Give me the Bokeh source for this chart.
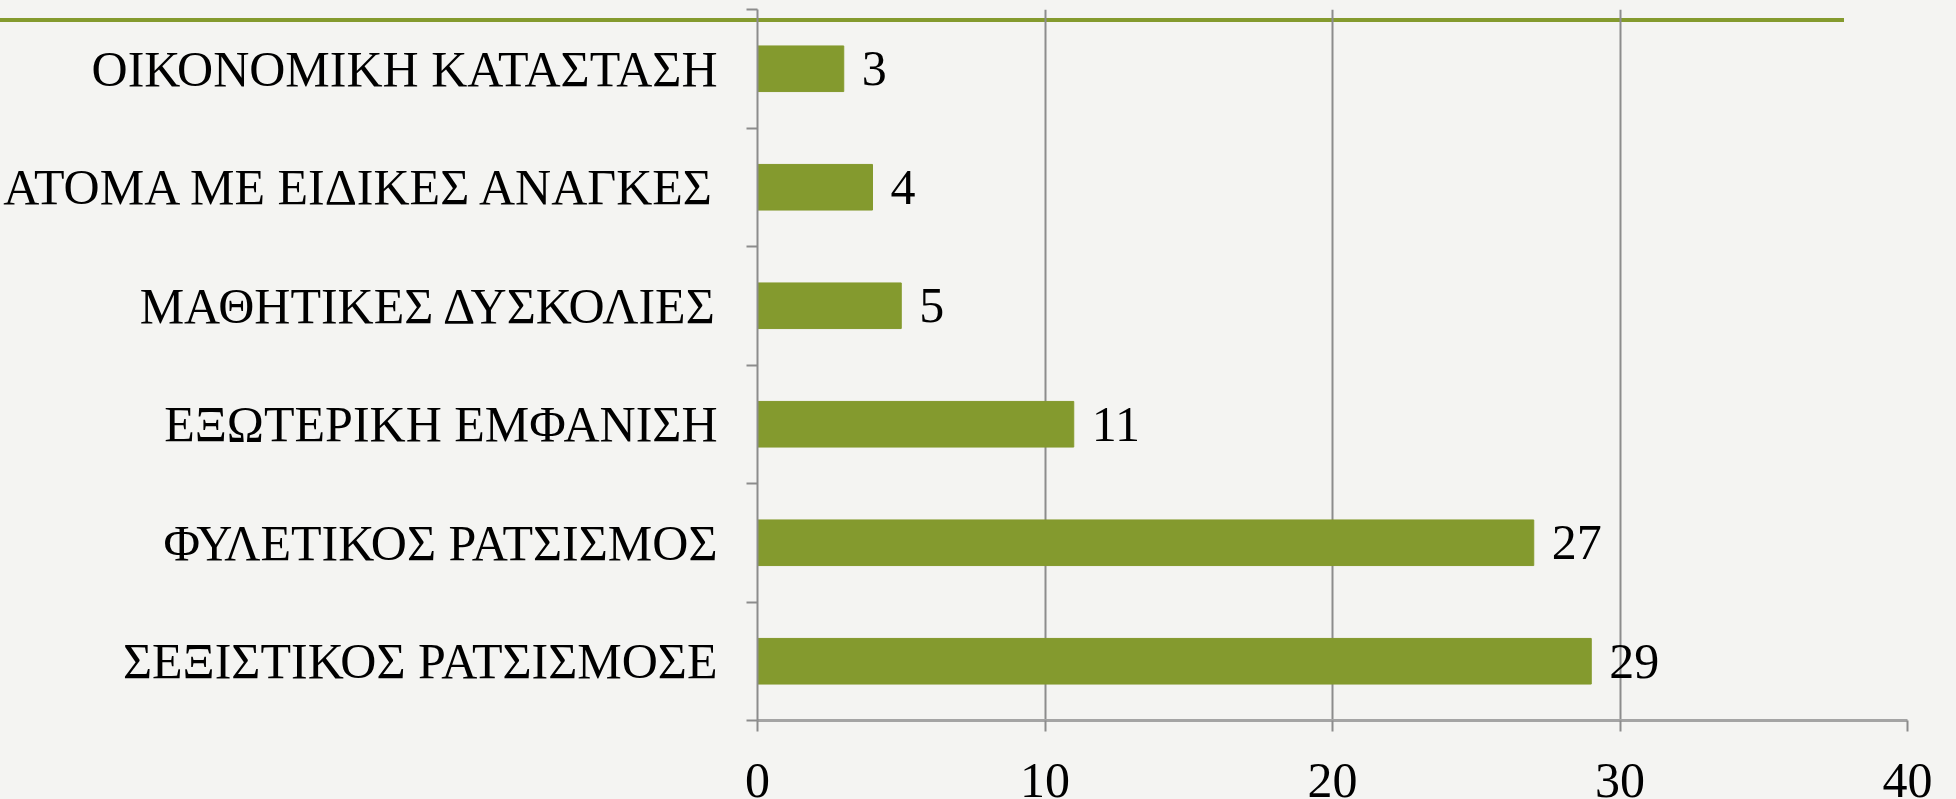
from bokeh.plotting import figure
from bokeh.models import ColumnDataSource, Range1d, FixedTicker
from bokeh.core.properties import value
from bokeh.embed import file_html
from bokeh.resources import INLINE

# Data (bottom to top, as in the original chart)
categories = [
    "ΣΕΞΙΣΤΙΚΟΣ ΡΑΤΣΙΣΜΟΣΕ",
    "ΦΥΛΕΤΙΚΟΣ ΡΑΤΣΙΣΜΟΣ",
    "ΕΞΩΤΕΡΙΚΗ ΕΜΦΑΝΙΣΗ",
    "ΜΑΘΗΤΙΚΕΣ ΔΥΣΚΟΛΙΕΣ",
    "ΑΤΟΜΑ ΜΕ ΕΙΔΙΚΕΣ ΑΝΑΓΚΕΣ",
    "ΟΙΚΟΝΟΜΙΚΗ ΚΑΤΑΣΤΑΣΗ",
]
counts = [29, 27, 11, 5, 4, 3]
x_ticks = [0, 10, 20, 30, 40]

BG = "#f4f4f2"
GREEN = "#849a2e"
GRID = "#8c8c8c"
FONT = "Liberation Serif"
FS = "50px"

idx = list(range(len(categories)))
src = ColumnDataSource(dict(y=idx, v=counts, lab=[str(c) for c in counts]))

p = figure(width=1956, height=799, output_backend="svg", toolbar_location=None,
           x_range=Range1d(0, 40), y_range=Range1d(-0.5, len(categories) - 0.5),
           min_border_left=756, min_border_right=49, min_border_top=9, min_border_bottom=74)
p.background_fill_alpha = 0
p.border_fill_alpha = 0
p.outline_line_color = None

p.hbar(y="y", right="v", left=0, height=0.385, source=src,
       fill_color=GREEN, line_color=GREEN)
p.text(x="v", y="y", text="lab", source=src, x_offset=18,
       text_align="left", text_baseline="middle",
       text_font=value(FONT), text_font_size=FS, text_color="black")

# x axis
p.xaxis.ticker = FixedTicker(ticks=x_ticks)
p.xaxis.axis_line_color = "#a4a4a4"
p.xaxis.axis_line_width = 3
p.xaxis.major_tick_line_color = GRID
p.xaxis.major_tick_line_width = 2
p.xaxis.major_tick_out = 11
p.xaxis.major_tick_in = 0
p.xaxis.minor_tick_line_color = None
p.xaxis.major_label_text_font = FONT
p.xaxis.major_label_text_font_size = FS
p.xaxis.major_label_text_color = "black"
p.xaxis.major_label_standoff = 32

# y axis: labels at category centres, ticks at category boundaries
p.yaxis.ticker = FixedTicker(ticks=idx, minor_ticks=[i - 0.5 for i in range(len(categories) + 1)])
p.yaxis.major_label_overrides = {i: c for i, c in enumerate(categories)}
p.yaxis.axis_line_color = GRID
p.yaxis.axis_line_width = 2
p.yaxis.major_tick_line_color = None
p.yaxis.minor_tick_line_color = GRID
p.yaxis.minor_tick_line_width = 2
p.yaxis.minor_tick_out = 11
p.yaxis.minor_tick_in = 0
p.yaxis.major_label_text_font = FONT
p.yaxis.major_label_text_font_size = FS
p.yaxis.major_label_text_color = "black"
p.yaxis.major_label_standoff = 29

p.xgrid.grid_line_color = GRID
p.xgrid.grid_line_width = 2
p.ygrid.grid_line_color = None

# page styling: slide background and the decorative green rule across the top
TEMPLATE = """
{% block postamble %}
<style>
html, body { background: %BG%; }
body::before { content: ""; position: fixed; left: 0; top: 18px; width: 1844px;
               height: 4px; background: %GREEN%; z-index: 0; }
</style>
{% endblock %}
""".replace("%BG%", BG).replace("%GREEN%", GREEN)

open("out.html", "w").write(file_html(p, INLINE, template=TEMPLATE))
